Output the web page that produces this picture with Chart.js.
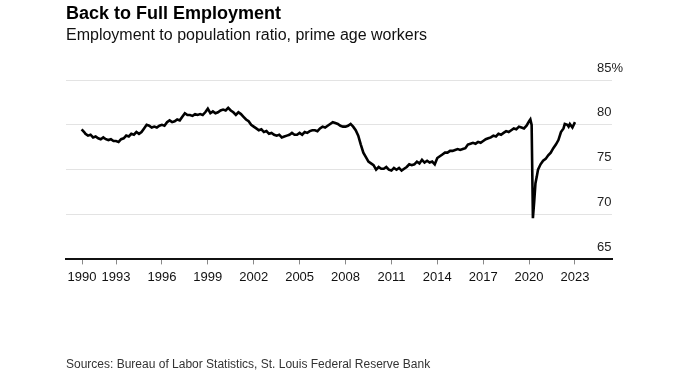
<!DOCTYPE html>
<html>
<head>
<meta charset="utf-8">
<script src="https://cdn.jsdelivr.net/npm/chart.js@4.4.1/dist/chart.umd.min.js"></script>
<style>
	html, body { margin: 0; padding: 0; background: #fff; }
	#wrap { position: relative; width: 680px; height: 376px; overflow: hidden; font-family: 'Liberation Sans', Arial, Helvetica, sans-serif; }
	#chart { position: absolute; left: 0; top: 0; }
	.title { position: absolute; left: 66px; top: 3px; font-size: 18px; font-weight: bold; color: #000; white-space: nowrap; }
	.subtitle { position: absolute; left: 66px; top: 26px; font-size: 16px; color: #111; white-space: nowrap; }
	.source { position: absolute; left: 66px; top: 357px; font-size: 12px; color: #333; white-space: nowrap; }
</style>
</head>
<body>
<div id="wrap">
	<canvas id="chart" width="680" height="376"></canvas>
	<div class="title">Back to Full Employment</div>
	<div class="subtitle">Employment to population ratio, prime age workers</div>
	<div class="source">Sources: Bureau of Labor Statistics, St. Louis Federal Reserve Bank</div>
</div>
<script>
const months = [
	'1990-10', '1990-12',
	'1991-01', '1991-03', '1991-05', '1991-07', '1991-09', '1991-11',
	'1992-01', '1992-03', '1992-05', '1992-07', '1992-09', '1992-11',
	'1993-01', '1993-03', '1993-05', '1993-07', '1993-09', '1993-11',
	'1994-01', '1994-03', '1994-05', '1994-07', '1994-09', '1994-11',
	'1995-01', '1995-03', '1995-05', '1995-07', '1995-09', '1995-11',
	'1996-01', '1996-03', '1996-05', '1996-07', '1996-09', '1996-11',
	'1997-01', '1997-03', '1997-05', '1997-07', '1997-09', '1997-11',
	'1998-01', '1998-03', '1998-05', '1998-07', '1998-09', '1998-11',
	'1999-01', '1999-03', '1999-05', '1999-07', '1999-09', '1999-11',
	'2000-01', '2000-03', '2000-05', '2000-07', '2000-09', '2000-11',
	'2001-01', '2001-03', '2001-05', '2001-07', '2001-09', '2001-11',
	'2002-01', '2002-03', '2002-05', '2002-07', '2002-09', '2002-11',
	'2003-01', '2003-03', '2003-05', '2003-07', '2003-09', '2003-11',
	'2004-01', '2004-03', '2004-05', '2004-07', '2004-09', '2004-11',
	'2005-01', '2005-03', '2005-05', '2005-07', '2005-09', '2005-11',
	'2006-01', '2006-03', '2006-05', '2006-07', '2006-09', '2006-11',
	'2007-01', '2007-03', '2007-05', '2007-07', '2007-09', '2007-11',
	'2008-01', '2008-03', '2008-05', '2008-07', '2008-09', '2008-11',
	'2009-01', '2009-03', '2009-05', '2009-07', '2009-09', '2009-11',
	'2010-01', '2010-03', '2010-05', '2010-07', '2010-09', '2010-11',
	'2011-01', '2011-03', '2011-05', '2011-07', '2011-09', '2011-11',
	'2012-01', '2012-03', '2012-05', '2012-07', '2012-09', '2012-11',
	'2013-01', '2013-03', '2013-05', '2013-07', '2013-09', '2013-11',
	'2014-01', '2014-03', '2014-05', '2014-07', '2014-09', '2014-11',
	'2015-01', '2015-03', '2015-05', '2015-07', '2015-09', '2015-11',
	'2016-01', '2016-03', '2016-05', '2016-07', '2016-09', '2016-11',
	'2017-01', '2017-03', '2017-05', '2017-07', '2017-09', '2017-11',
	'2018-01', '2018-03', '2018-05', '2018-07', '2018-09', '2018-11',
	'2019-01', '2019-03', '2019-05', '2019-07', '2019-09', '2019-11',
	'2020-01', '2020-02', '2020-03', '2020-04', '2020-05', '2020-06', '2020-07', '2020-08', '2020-10', '2020-12',
	'2021-02', '2021-04', '2021-06', '2021-08', '2021-10', '2021-12',
	'2022-02', '2022-04', '2022-05', '2022-07', '2022-08', '2022-09', '2022-11',
	'2023-01'
];

const ratio = [
	79.5, 79.2,
	79.0, 78.8, 78.9, 78.6, 78.7, 78.5,
	78.4, 78.6, 78.4, 78.3, 78.4, 78.2,
	78.2, 78.1, 78.4, 78.5, 78.8, 78.7,
	79.0, 78.9, 79.2, 79.0, 79.2, 79.6,
	80.0, 79.9, 79.7, 79.8, 79.7, 79.9,
	80.0, 79.9, 80.3, 80.5, 80.3, 80.4,
	80.6, 80.5, 80.9, 81.3, 81.1, 81.1,
	81.0, 81.2, 81.1, 81.2, 81.1, 81.4,
	81.8, 81.3, 81.5, 81.3, 81.4, 81.6,
	81.7, 81.6, 81.9, 81.6, 81.4, 81.1,
	81.4, 81.2, 80.9, 80.6, 80.4, 80.0,
	79.8, 79.6, 79.4, 79.5, 79.2, 79.3,
	79.0, 79.1, 78.9, 78.8, 78.9, 78.6,
	78.7, 78.8, 78.9, 79.1, 78.9, 78.9,
	79.1, 78.9, 79.2, 79.1, 79.3, 79.4,
	79.4, 79.3, 79.6, 79.8, 79.7, 79.9,
	80.1, 80.3, 80.2, 80.1, 79.9, 79.8,
	79.8, 79.9, 80.1, 79.8, 79.4, 78.8,
	77.8, 76.9, 76.4, 75.9, 75.7, 75.5,
	75.0, 75.3, 75.1, 75.1, 75.3, 75.0,
	74.9, 75.2, 75.0, 75.2, 74.9, 75.1,
	75.3, 75.6, 75.5, 75.6, 75.9, 75.7,
	76.1, 75.8, 76.0, 75.8, 75.9, 75.6,
	76.3, 76.5, 76.7, 76.9, 76.9, 77.1,
	77.1, 77.2, 77.3, 77.2, 77.3, 77.4,
	77.8, 77.9, 78.0, 77.9, 78.1, 78.0,
	78.2, 78.4, 78.5, 78.6, 78.8, 78.7,
	79.0, 78.9, 79.1, 79.3, 79.2, 79.4,
	79.6, 79.5, 79.8, 79.7, 79.6, 79.9,
	80.4, 80.6, 80.0, 69.6, 71.4, 73.5, 74.2, 75.0, 75.6, 76.0,
	76.2, 76.6, 76.9, 77.4, 77.8, 78.3,
	79.2, 79.6, 80.1, 80.0, 79.8, 80.1, 79.7,
	80.3
];

const xTickValues = [1990.78, 1993, 1996, 1999, 2002, 2005, 2008, 2011, 2014, 2017, 2020, 2023];
const xTickLabels = ['1990', '1993', '1996', '1999', '2002', '2005', '2008', '2011', '2014', '2017', '2020', '2023'];
const yTickValues = [65, 70, 75, 80, 85];
const yTickLabels = ['65', '70', '75', '80', '85%'];

(() => {
	'use strict'

	const fontFamily = "'Liberation Sans', Arial, Helvetica, sans-serif";

	function toYear(month) {
		const [y, m] = month.split('-').map(Number);
		return y + (m - 1) / 12;
	}

	const points = months.map((month, i) => ({ x: toYear(month), y: ratio[i] }));

	// y labels sit above their gridlines on the right
	const rightLabels = {
		id: 'rightLabels',
		afterDraw(chart) {
			const ctx = chart.ctx;
			const yScale = chart.scales.y;
			ctx.save();
			ctx.font = `13px ${fontFamily}`;
			ctx.fillStyle = '#222';
			ctx.textAlign = 'left';
			ctx.textBaseline = 'middle';
			yTickValues.forEach((value, i) => {
				ctx.fillText(yTickLabels[i], 597, yScale.getPixelForValue(value) - 12);
			});
			ctx.restore();
		}
	};

	new Chart(document.getElementById('chart'), {
		type: 'line',
		data: {
			datasets: [{
				label: 'Prime age employment to population ratio',
				data: points,
				borderColor: '#000',
				borderWidth: 2.6,
				pointRadius: 0,
				tension: 0,
				fill: false
			}]
		},
		options: {
			responsive: false,
			animation: false,
			layout: {
				padding: { left: 66, right: 68, top: 80, bottom: 86 }
			},
			plugins: {
				legend: { display: false },
				tooltip: { enabled: false }
			},
			scales: {
				x: {
					type: 'linear',
					min: 1989.73,
					max: 2025.42,
					afterBuildTicks: (scale) => {
						scale.ticks = xTickValues.map((value) => ({ value }));
					},
					border: { display: true, color: '#111', width: 2 },
					grid: {
						display: true,
						drawOnChartArea: false,
						drawTicks: true,
						tickLength: 5,
						color: '#888'
					},
					ticks: {
						autoSkip: false,
						maxRotation: 0,
						padding: 5,
						color: '#111',
						font: { family: fontFamily, size: 13 },
						callback: (value, index) => xTickLabels[index]
					}
				},
				y: {
					min: 65,
					max: 85,
					afterBuildTicks: (scale) => {
						scale.ticks = yTickValues.map((value) => ({ value }));
					},
					border: { display: false },
					grid: { color: '#e3e3e3', lineWidth: 1, drawTicks: false },
					ticks: { display: false }
				}
			}
		},
		plugins: [rightLabels]
	});
})()
</script>
</body>
</html>
